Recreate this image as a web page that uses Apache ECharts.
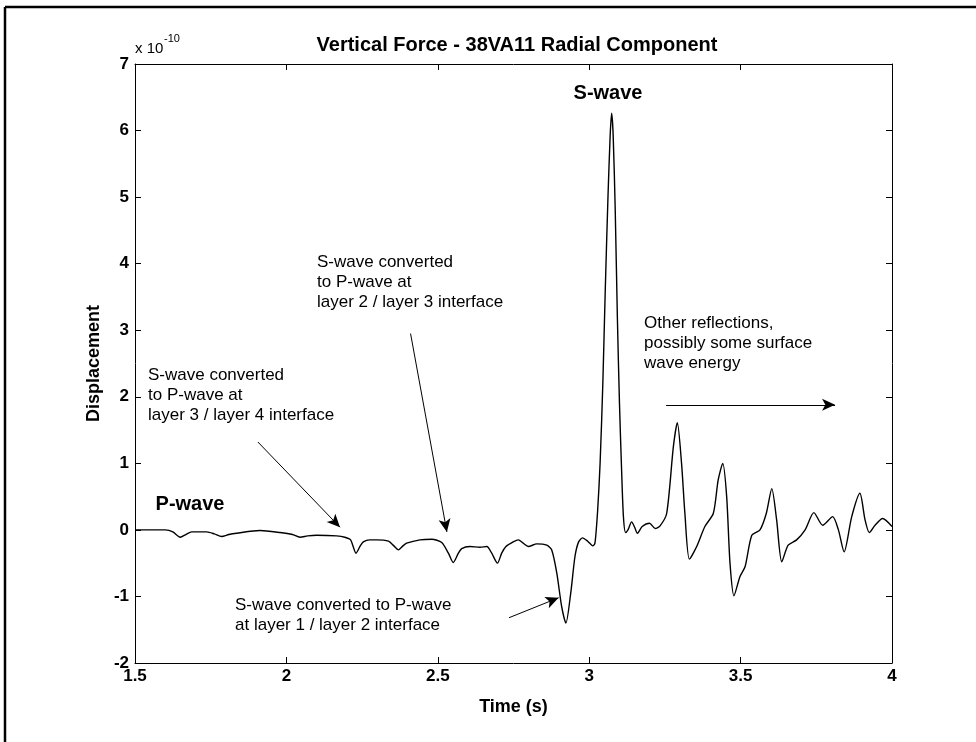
<!DOCTYPE html>
<html>
<head>
<meta charset="utf-8">
<script src="https://cdn.jsdelivr.net/npm/echarts@6/dist/echarts.min.js"></script>
<style>
  html, body { margin: 0; padding: 0; background: #ffffff; }
  #chart { width: 976px; height: 742px; }
</style>
</head>
<body>
<div id="chart"></div>
<script>
// Radial displacement trace (units of 1e-10) against time in seconds
const timeS = [
  1.500, 1.600, 1.625, 1.649, 1.668, 1.687, 1.737, 1.762, 1.786, 1.810, 1.836, 1.913, 1.979,
  2.020, 2.045, 2.070, 2.100, 2.166, 2.193, 2.212, 2.230, 2.244, 2.254, 2.275, 2.298, 2.337,
  2.355, 2.370, 2.385, 2.397, 2.441, 2.480, 2.513, 2.535, 2.551, 2.568, 2.579, 2.606, 2.639,
  2.662, 2.678, 2.697, 2.711, 2.725, 2.749, 2.766, 2.782, 2.799, 2.827, 2.860, 2.876, 2.893,
  2.909, 2.923, 2.939, 2.953, 2.965, 2.978, 2.995, 3.012, 3.019, 3.028, 3.036, 3.045, 3.053,
  3.062, 3.069, 3.074, 3.079, 3.086, 3.093, 3.100, 3.107, 3.113, 3.120, 3.128, 3.140, 3.150,
  3.159, 3.175, 3.199, 3.218, 3.234, 3.256, 3.278, 3.291, 3.305, 3.316, 3.331, 3.355, 3.382,
  3.410, 3.426, 3.441, 3.454, 3.465, 3.478, 3.498, 3.515, 3.537, 3.564, 3.585, 3.603, 3.619,
  3.636, 3.657, 3.685, 3.713, 3.742, 3.771, 3.804, 3.823, 3.842, 3.867, 3.894, 3.911, 3.925,
  3.944, 3.969, 4.000
];
const displacement = [
  0.00, 0.00, -0.03, -0.11, -0.07, -0.03, -0.03, -0.06, -0.10, -0.07, -0.05, -0.01, -0.04,
  -0.07, -0.11, -0.09, -0.08, -0.09, -0.11, -0.15, -0.35, -0.24, -0.18, -0.15, -0.15, -0.17,
  -0.24, -0.30, -0.24, -0.20, -0.15, -0.14, -0.19, -0.35, -0.49, -0.35, -0.28, -0.25, -0.26,
  -0.25, -0.35, -0.50, -0.35, -0.25, -0.18, -0.15, -0.20, -0.25, -0.21, -0.23, -0.30, -0.65,
  -1.15, -1.40, -0.95, -0.40, -0.18, -0.12, -0.17, -0.24, -0.20, 0.30, 1.00, 2.20, 3.60,
  5.00, 5.90, 6.26, 5.95, 4.80, 3.20, 1.90, 0.90, 0.20, -0.04, 0.00, 0.12, 0.04,
  -0.05, 0.05, 0.10, 0.02, 0.06, 0.25, 1.25, 1.61, 1.00, 0.25, -0.44, -0.25, 0.05,
  0.25, 0.75, 1.00, 0.50, -0.50, -0.99, -0.70, -0.55, -0.08, 0.00, 0.25, 0.62, 0.15,
  -0.48, -0.23, -0.15, 0.00, 0.26, 0.07, 0.20, 0.00, -0.33, 0.20, 0.55, 0.15, -0.04,
  0.07, 0.17, 0.05
];

// Axis extents and tick spacing
const xRange = [1.5, 4];
const xStep = 0.5;
const yRange = [-2, 7];
const yStep = 1;

// Pointer arrows: [start, end] in (time, displacement) coordinates
const arrowLayer34 = [[1.906, 1.32], [2.177, 0.04]];
const arrowLayer23 = [[2.410, 2.95], [2.530, -0.03]];
const arrowLayer12 = [[2.735, -1.32], [2.899, -1.02]];
const arrowLater = [[3.254, 1.88], [3.812, 1.88]];

const FONT = '"Liberation Sans", Arial, Helvetica, sans-serif';

const seriesData = timeS.map((t, i) => [t, displacement[i]]);

function arrow(pair) {
  return [
    { coord: pair[0], symbol: 'none' },
    { coord: pair[1], symbol: 'arrow', symbolSize: [9, 13] }
  ];
}

function note(x, y, text) {
  return {
    type: 'text', x: x, y: y, silent: true,
    style: {
      text: text, fill: '#000', font: '17px ' + FONT,
      lineHeight: 20, textVerticalAlign: 'middle', textAlign: 'left'
    }
  };
}

const axisBase = {
  type: 'value',
  axisLine: { show: true, onZero: false, lineStyle: { color: '#000', width: 1 } },
  axisTick: { show: true, inside: true, length: 6, lineStyle: { color: '#000' } },
  splitLine: { show: false }
};

const tickFont = { fontFamily: FONT, fontSize: 17, fontWeight: 'bold', color: '#000' };

const chart = echarts.init(document.getElementById('chart'), null, { renderer: 'canvas' });

chart.setOption({
  animation: false,
  backgroundColor: '#ffffff',
  title: {
    text: 'Vertical Force - 38VA11 Radial Component',
    left: 512, top: 30, textAlign: 'center',
    textStyle: { fontFamily: FONT, fontSize: 20, fontWeight: 'bold', color: '#000' }
  },
  grid: { left: 135, right: 84, top: 64, bottom: 79, containLabel: false },
  xAxis: [
    Object.assign({}, axisBase, {
      position: 'bottom', min: xRange[0], max: xRange[1], interval: xStep,
      name: 'Time (s)', nameLocation: 'middle', nameGap: 35,
      nameTextStyle: { fontFamily: FONT, fontSize: 18, fontWeight: 'bold', color: '#000' },
      axisLabel: Object.assign({ show: true, margin: 5 }, tickFont)
    }),
    Object.assign({}, axisBase, {
      position: 'top', min: xRange[0], max: xRange[1], interval: xStep,
      axisLabel: { show: false }
    })
  ],
  yAxis: [
    Object.assign({}, axisBase, {
      position: 'left', min: yRange[0], max: yRange[1], interval: yStep,
      name: 'Displacement', nameLocation: 'middle', nameGap: 24, nameRotate: 90,
      nameTextStyle: { fontFamily: FONT, fontSize: 18, fontWeight: 'bold', color: '#000' },
      axisLabel: Object.assign({ show: true, margin: 6 }, tickFont)
    }),
    Object.assign({}, axisBase, {
      position: 'right', min: yRange[0], max: yRange[1], interval: yStep,
      axisLabel: { show: false }
    })
  ],
  series: [{
    type: 'line',
    data: seriesData,
    xAxisIndex: 0, yAxisIndex: 0,
    showSymbol: false,
    smooth: 0.25,
    lineStyle: { color: '#000', width: 1.4 },
    markLine: {
      silent: true,
      animation: false,
      label: { show: false },
      lineStyle: { color: '#000', width: 1, type: 'solid' },
      emphasis: { disabled: true },
      data: [arrow(arrowLayer34), arrow(arrowLayer23), arrow(arrowLayer12), arrow(arrowLater)]
    }
  }],
  graphic: [
    // page frame
    { type: 'line', silent: true, shape: { x1: 5, y1: 7, x2: 5, y2: 742 }, style: { stroke: '#000', lineWidth: 2.5 } },
    { type: 'line', silent: true, shape: { x1: 5, y1: 7, x2: 976, y2: 7 }, style: { stroke: '#000', lineWidth: 2.5 } },
    // exponent for the displacement axis
    { type: 'text', x: 135, y: 56, silent: true,
      style: { text: 'x 10', fill: '#000', font: '15px ' + FONT, textVerticalAlign: 'bottom' } },
    { type: 'text', x: 164, y: 44, silent: true,
      style: { text: '-10', fill: '#000', font: '11px ' + FONT, textVerticalAlign: 'bottom' } },
    // phase labels
    { type: 'text', x: 190, y: 504, silent: true,
      style: { text: 'P-wave', fill: '#000', font: 'bold 20px ' + FONT, textAlign: 'center', textVerticalAlign: 'middle' } },
    { type: 'text', x: 608, y: 93, silent: true,
      style: { text: 'S-wave', fill: '#000', font: 'bold 20px ' + FONT, textAlign: 'center', textVerticalAlign: 'middle' } },
    // annotations
    note(317, 282.5, 'S-wave converted\nto P-wave at\nlayer 2 / layer 3 interface'),
    note(148, 395.5, 'S-wave converted\nto P-wave at\nlayer 3 / layer 4 interface'),
    note(235, 615.5, 'S-wave converted to P-wave\nat layer 1 / layer 2 interface'),
    note(644, 343.5, 'Other reflections,\npossibly some surface\nwave energy')
  ]
});
</script>
</body>
</html>
